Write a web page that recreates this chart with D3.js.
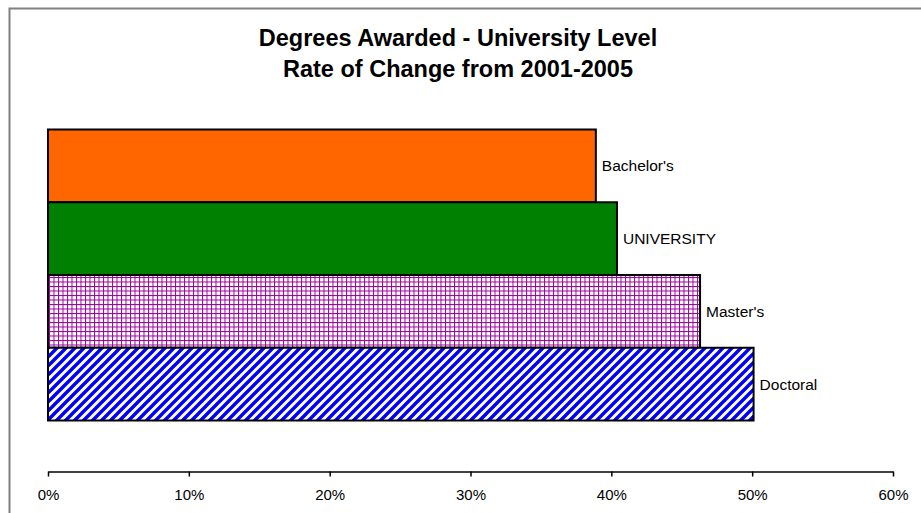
<!DOCTYPE html>
<html><head><meta charset="utf-8">
<script src="https://cdn.jsdelivr.net/npm/d3@7"></script>
<style>body{margin:0;background:#fff}svg{display:block}</style>
</head><body>
<script>
const categories = ["Bachelor's", "UNIVERSITY", "Master's", "Doctoral"];
const values = [0.389, 0.404, 0.463, 0.501];
const tickValues = [0, 0.1, 0.2, 0.3, 0.4, 0.5, 0.6];
const titleLines = ["Degrees Awarded - University Level", "Rate of Change from 2001-2005"];

const W = 921, H = 513;
const svg = d3.select("body").append("svg").attr("width", W).attr("height", H);
const defs = svg.append("defs");

// grid pattern (Master's)
const grid = defs.append("pattern").attr("id", "grid").attr("patternUnits", "userSpaceOnUse")
  .attr("width", 4.5).attr("height", 4.5).attr("x", 49).attr("y", 277);
grid.append("rect").attr("width", 4.5).attr("height", 4.5).attr("fill", "#fff");
grid.append("rect").attr("x", 0).attr("y", 0).attr("width", 1).attr("height", 4.5).attr("fill", "#990099");
grid.append("rect").attr("x", 0).attr("y", 0).attr("width", 4.5).attr("height", 1).attr("fill", "#990099");

// diagonal pattern (Doctoral)
const diag = defs.append("pattern").attr("id", "diag").attr("patternUnits", "userSpaceOnUse")
  .attr("width", 9).attr("height", 9);
diag.append("rect").attr("width", 9).attr("height", 9).attr("fill", "#fff");
diag.append("path").attr("d", "M-3,3 L3,-3 M0,9 L9,0 M6,12 L12,6")
  .attr("stroke", "#0000ff").attr("stroke-width", 3.4);

const fills = ["#ff6600", "#008000", "url(#grid)", "url(#diag)"];

// outer frame
svg.append("rect").attr("x", 9.5).attr("y", 8.5).attr("width", W).attr("height", H)
  .attr("fill", "none").attr("stroke", "#808080").attr("stroke-width", 2);

// title
const title = svg.append("text").attr("text-anchor", "middle")
  .attr("font-family", "Liberation Sans, Arial, sans-serif").attr("font-weight", "bold")
  .attr("font-size", 23.5).attr("fill", "#000");
titleLines.forEach((t, i) => title.append("tspan").attr("x", 458).attr("y", 46 + i * 31).text(t));

const x = d3.scaleLinear().domain([0, 0.6]).range([48, 893]);
const y = d3.scaleBand().domain(categories).range([129.5, 420.5]).padding(0);

svg.append("g").selectAll("rect").data(categories).join("rect")
  .attr("x", x(0)).attr("y", d => y(d))
  .attr("width", (d, i) => x(values[i]) - x(0))
  .attr("height", y.bandwidth())
  .attr("fill", (d, i) => fills[i])
  .attr("stroke", "#000").attr("stroke-width", 2);

svg.append("g").selectAll("text").data(categories).join("text")
  .attr("x", (d, i) => x(values[i]) + 6)
  .attr("y", d => y(d) + y.bandwidth() / 2 + 5.5)
  .attr("font-family", "Liberation Sans, Arial, sans-serif").attr("font-size", 15.5)
  .attr("fill", "#000").text(d => d);

const axis = d3.axisBottom(x).tickValues(tickValues).tickFormat(d3.format(".0%"))
  .tickSize(5).tickSizeOuter(0);
const ag = svg.append("g").attr("transform", "translate(0,471.5)").call(axis);
ag.select(".domain").attr("stroke", "#000").attr("stroke-width", 1.5);
ag.selectAll(".tick line").attr("stroke", "#000").attr("stroke-width", 1.5);
ag.selectAll(".tick text").attr("font-family", "Liberation Sans, Arial, sans-serif")
  .attr("font-size", 15).attr("fill", "#000").attr("dy", 0).attr("y", 28);
</script>
</body></html>
